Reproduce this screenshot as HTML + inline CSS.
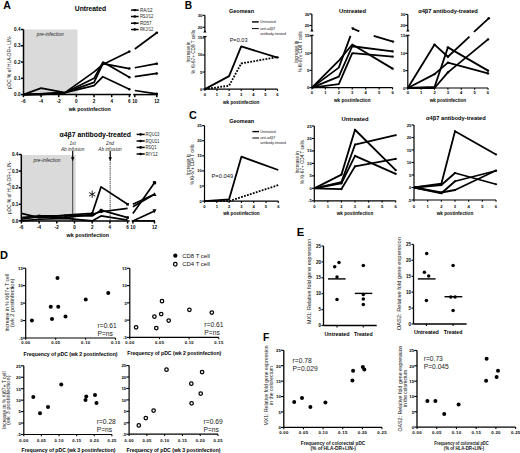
<!DOCTYPE html>
<html><head><meta charset="utf-8"><style>
html,body{margin:0;padding:0;background:#fff;}
body{width:520px;height:453px;overflow:hidden;font-family:"Liberation Sans", sans-serif;}
svg{display:block;}
</style></head><body>
<svg width="520" height="453" viewBox="0 0 520 453" font-family='"Liberation Sans", sans-serif'>
<rect width="520" height="453" fill="#fff"/>
<text x="3.30" y="8.90" font-size="10.6" font-weight="bold">A</text>
<text x="74.80" y="11.00" font-size="6.7" font-weight="bold" textLength="31.40" lengthAdjust="spacingAndGlyphs">Untreated</text>
<rect x="23.50" y="29.50" width="54.00" height="65.00" fill="#dadada"/>
<text x="50.20" y="36.00" font-size="4.9" text-anchor="middle" font-style="italic" fill="#222">pre-infection</text>
<line x1="23.50" y1="29.50" x2="23.50" y2="94.60" stroke="#000" stroke-width="1.5" stroke-linecap="butt"/>
<line x1="20.90" y1="94.60" x2="23.50" y2="94.60" stroke="#000" stroke-width="1.5" stroke-linecap="butt"/>
<text x="20.50" y="96.26" font-size="4.6" text-anchor="end" font-weight="bold">0.0</text>
<line x1="20.90" y1="78.33" x2="23.50" y2="78.33" stroke="#000" stroke-width="1.5" stroke-linecap="butt"/>
<text x="20.50" y="79.99" font-size="4.6" text-anchor="end" font-weight="bold">0.1</text>
<line x1="20.90" y1="62.06" x2="23.50" y2="62.06" stroke="#000" stroke-width="1.5" stroke-linecap="butt"/>
<text x="20.50" y="63.72" font-size="4.6" text-anchor="end" font-weight="bold">0.2</text>
<line x1="20.90" y1="45.79" x2="23.50" y2="45.79" stroke="#000" stroke-width="1.5" stroke-linecap="butt"/>
<text x="20.50" y="47.45" font-size="4.6" text-anchor="end" font-weight="bold">0.3</text>
<line x1="20.90" y1="29.52" x2="23.50" y2="29.52" stroke="#000" stroke-width="1.5" stroke-linecap="butt"/>
<text x="20.50" y="31.18" font-size="4.6" text-anchor="end" font-weight="bold">0.4</text>
<line x1="23.50" y1="94.60" x2="131.00" y2="94.60" stroke="#000" stroke-width="1.5" stroke-linecap="butt"/>
<line x1="133.20" y1="94.60" x2="157.50" y2="94.60" stroke="#000" stroke-width="1.5" stroke-linecap="butt"/>
<line x1="23.42" y1="94.60" x2="23.42" y2="97.20" stroke="#000" stroke-width="1.5" stroke-linecap="butt"/>
<text x="23.42" y="102.80" font-size="4.6" text-anchor="middle" font-weight="bold">-6</text>
<line x1="41.08" y1="94.60" x2="41.08" y2="97.20" stroke="#000" stroke-width="1.5" stroke-linecap="butt"/>
<text x="41.08" y="102.80" font-size="4.6" text-anchor="middle" font-weight="bold">-4</text>
<line x1="58.74" y1="94.60" x2="58.74" y2="97.20" stroke="#000" stroke-width="1.5" stroke-linecap="butt"/>
<text x="58.74" y="102.80" font-size="4.6" text-anchor="middle" font-weight="bold">-2</text>
<line x1="76.40" y1="94.60" x2="76.40" y2="97.20" stroke="#000" stroke-width="1.5" stroke-linecap="butt"/>
<text x="76.40" y="102.80" font-size="4.6" text-anchor="middle" font-weight="bold">0</text>
<line x1="94.06" y1="94.60" x2="94.06" y2="97.20" stroke="#000" stroke-width="1.5" stroke-linecap="butt"/>
<text x="94.06" y="102.80" font-size="4.6" text-anchor="middle" font-weight="bold">2</text>
<line x1="111.72" y1="94.60" x2="111.72" y2="97.20" stroke="#000" stroke-width="1.5" stroke-linecap="butt"/>
<text x="111.72" y="102.80" font-size="4.6" text-anchor="middle" font-weight="bold">4</text>
<line x1="129.38" y1="94.60" x2="129.38" y2="97.20" stroke="#000" stroke-width="1.5" stroke-linecap="butt"/>
<text x="129.38" y="102.80" font-size="4.6" text-anchor="middle" font-weight="bold">6</text>
<line x1="134.80" y1="94.60" x2="134.80" y2="97.20" stroke="#000" stroke-width="1.5" stroke-linecap="butt"/>
<text x="134.80" y="102.80" font-size="4.6" text-anchor="middle" font-weight="bold">10</text>
<line x1="156.80" y1="94.60" x2="156.80" y2="97.20" stroke="#000" stroke-width="1.5" stroke-linecap="butt"/>
<text x="156.80" y="102.80" font-size="4.6" text-anchor="middle" font-weight="bold">12</text>
<text x="89.70" y="110.60" font-size="5.3" text-anchor="middle" font-weight="bold" textLength="42.00" lengthAdjust="spacingAndGlyphs">wk postinfection</text>
<text x="10.80" y="62.30" font-size="4.8" text-anchor="middle" transform="rotate(-90 10.80 62.30)" textLength="53.20" lengthAdjust="spacingAndGlyphs">pDC % of HLA-DR+ LIN-</text>
<line x1="131.00" y1="10.10" x2="138.60" y2="10.10" stroke="#000" stroke-width="1.5" stroke-linecap="butt"/>
<circle cx="134.80" cy="10.10" r="1.2" fill="#000"/>
<text x="139.90" y="11.70" font-size="4.5" fill="#222" textLength="12.60" lengthAdjust="spacingAndGlyphs">RA/12</text>
<line x1="131.00" y1="16.50" x2="138.60" y2="16.50" stroke="#000" stroke-width="1.5" stroke-linecap="butt"/>
<circle cx="134.80" cy="16.50" r="1.2" fill="#000"/>
<text x="139.90" y="18.10" font-size="4.5" fill="#222" textLength="13.30" lengthAdjust="spacingAndGlyphs">RSJ/12</text>
<line x1="131.00" y1="23.20" x2="138.60" y2="23.20" stroke="#000" stroke-width="1.5" stroke-linecap="butt"/>
<circle cx="134.80" cy="23.20" r="1.2" fill="#000"/>
<text x="139.90" y="24.80" font-size="4.5" fill="#222" textLength="11.60" lengthAdjust="spacingAndGlyphs">RD57</text>
<line x1="131.00" y1="29.50" x2="138.60" y2="29.50" stroke="#000" stroke-width="1.5" stroke-linecap="butt"/>
<circle cx="134.80" cy="29.50" r="1.2" fill="#000"/>
<text x="139.90" y="31.10" font-size="4.5" fill="#222" textLength="13.30" lengthAdjust="spacingAndGlyphs">RKJ/12</text>
<polyline points="23.42,94.60 41.08,93.79 64.92,92.65 94.06,71.82 102.89,64.50 129.38,51.48" fill="none" stroke="#000" stroke-width="1.7" stroke-linejoin="round"/>
<polyline points="134.80,49.04 156.80,32.77" fill="none" stroke="#000" stroke-width="1.7" stroke-linejoin="round"/>
<circle cx="129.38" cy="51.48" r="1.2" fill="#000"/>
<circle cx="156.80" cy="32.77" r="1.3" fill="#000"/>
<polyline points="23.42,94.60 41.08,88.09 64.92,92.65 94.06,78.33 102.89,62.06 129.38,77.19" fill="none" stroke="#000" stroke-width="1.7" stroke-linejoin="round"/>
<polyline points="134.80,76.70 156.80,73.45" fill="none" stroke="#000" stroke-width="1.7" stroke-linejoin="round"/>
<circle cx="129.38" cy="77.19" r="1.2" fill="#000"/>
<circle cx="156.80" cy="73.45" r="1.3" fill="#000"/>
<polyline points="23.42,94.60 41.08,93.79 64.92,92.65 94.06,82.40 102.89,63.69 129.38,68.57" fill="none" stroke="#000" stroke-width="1.7" stroke-linejoin="round"/>
<polyline points="134.80,67.75 156.80,63.69" fill="none" stroke="#000" stroke-width="1.7" stroke-linejoin="round"/>
<circle cx="129.38" cy="68.57" r="1.2" fill="#000"/>
<circle cx="156.80" cy="63.69" r="1.3" fill="#000"/>
<polyline points="23.42,94.60 41.08,94.60 64.92,92.65 94.06,85.65 102.89,76.70 129.38,89.23" fill="none" stroke="#000" stroke-width="1.7" stroke-linejoin="round"/>
<polyline points="134.80,90.53 156.80,93.79" fill="none" stroke="#000" stroke-width="1.7" stroke-linejoin="round"/>
<circle cx="129.38" cy="89.23" r="1.2" fill="#000"/>
<circle cx="156.80" cy="93.79" r="1.3" fill="#000"/>
<circle cx="41.08" cy="93.95" r="1.2" fill="#000"/>
<text x="59.50" y="137.20" font-size="6.8" font-weight="bold" textLength="71.50" lengthAdjust="spacingAndGlyphs">α4β7 antibody-treated</text>
<rect x="21.30" y="155.00" width="54.40" height="65.90" fill="#dadada"/>
<text x="46.90" y="162.00" font-size="4.9" text-anchor="middle" font-style="italic" fill="#222">pre-infection</text>
<line x1="72.70" y1="160.00" x2="72.70" y2="220.90" stroke="#333" stroke-width="0.9" stroke-linecap="butt"/>
<line x1="110.20" y1="160.00" x2="110.20" y2="220.90" stroke="#777" stroke-width="1.3" stroke-linecap="butt" stroke-dasharray="1.3,0.6"/>
<text x="72.60" y="145.00" font-size="4.7" text-anchor="middle" font-style="italic" fill="#222">1st</text>
<text x="72.60" y="150.60" font-size="4.7" text-anchor="middle" font-style="italic" fill="#222" textLength="23.40" lengthAdjust="spacingAndGlyphs">Ab infusion</text>
<text x="110.00" y="145.00" font-size="4.7" text-anchor="middle" font-style="italic" fill="#222">2nd</text>
<text x="110.00" y="150.60" font-size="4.7" text-anchor="middle" font-style="italic" fill="#222" textLength="23.40" lengthAdjust="spacingAndGlyphs">Ab infusion</text>
<line x1="72.70" y1="151.00" x2="72.70" y2="158.50" stroke="#000" stroke-width="1.2" stroke-linecap="butt"/>
<path d="M71.00,157.3 L74.40,157.3 L72.70,161.3 Z" fill="#000"/>
<line x1="110.20" y1="151.00" x2="110.20" y2="158.50" stroke="#000" stroke-width="1.2" stroke-linecap="butt"/>
<path d="M108.50,157.3 L111.90,157.3 L110.20,161.3 Z" fill="#000"/>
<line x1="21.30" y1="154.40" x2="21.30" y2="220.90" stroke="#000" stroke-width="1.5" stroke-linecap="butt"/>
<line x1="18.70" y1="220.90" x2="21.30" y2="220.90" stroke="#000" stroke-width="1.5" stroke-linecap="butt"/>
<text x="18.30" y="222.56" font-size="4.6" text-anchor="end" font-weight="bold">0.0</text>
<line x1="18.70" y1="204.30" x2="21.30" y2="204.30" stroke="#000" stroke-width="1.5" stroke-linecap="butt"/>
<text x="18.30" y="205.96" font-size="4.6" text-anchor="end" font-weight="bold">0.1</text>
<line x1="18.70" y1="187.70" x2="21.30" y2="187.70" stroke="#000" stroke-width="1.5" stroke-linecap="butt"/>
<text x="18.30" y="189.36" font-size="4.6" text-anchor="end" font-weight="bold">0.2</text>
<line x1="18.70" y1="171.10" x2="21.30" y2="171.10" stroke="#000" stroke-width="1.5" stroke-linecap="butt"/>
<text x="18.30" y="172.76" font-size="4.6" text-anchor="end" font-weight="bold">0.3</text>
<line x1="18.70" y1="154.50" x2="21.30" y2="154.50" stroke="#000" stroke-width="1.5" stroke-linecap="butt"/>
<text x="18.30" y="156.16" font-size="4.6" text-anchor="end" font-weight="bold">0.4</text>
<line x1="21.30" y1="220.90" x2="129.60" y2="220.90" stroke="#000" stroke-width="1.5" stroke-linecap="butt"/>
<line x1="131.60" y1="220.90" x2="155.00" y2="220.90" stroke="#000" stroke-width="1.5" stroke-linecap="butt"/>
<line x1="21.40" y1="220.90" x2="21.40" y2="223.50" stroke="#000" stroke-width="1.5" stroke-linecap="butt"/>
<text x="21.40" y="229.00" font-size="4.6" text-anchor="middle" font-weight="bold">-6</text>
<line x1="39.10" y1="220.90" x2="39.10" y2="223.50" stroke="#000" stroke-width="1.5" stroke-linecap="butt"/>
<text x="39.10" y="229.00" font-size="4.6" text-anchor="middle" font-weight="bold">-4</text>
<line x1="56.80" y1="220.90" x2="56.80" y2="223.50" stroke="#000" stroke-width="1.5" stroke-linecap="butt"/>
<text x="56.80" y="229.00" font-size="4.6" text-anchor="middle" font-weight="bold">-2</text>
<line x1="74.50" y1="220.90" x2="74.50" y2="223.50" stroke="#000" stroke-width="1.5" stroke-linecap="butt"/>
<text x="74.50" y="229.00" font-size="4.6" text-anchor="middle" font-weight="bold">0</text>
<line x1="92.20" y1="220.90" x2="92.20" y2="223.50" stroke="#000" stroke-width="1.5" stroke-linecap="butt"/>
<text x="92.20" y="229.00" font-size="4.6" text-anchor="middle" font-weight="bold">2</text>
<line x1="109.90" y1="220.90" x2="109.90" y2="223.50" stroke="#000" stroke-width="1.5" stroke-linecap="butt"/>
<text x="109.90" y="229.00" font-size="4.6" text-anchor="middle" font-weight="bold">4</text>
<line x1="127.60" y1="220.90" x2="127.60" y2="223.50" stroke="#000" stroke-width="1.5" stroke-linecap="butt"/>
<text x="127.60" y="229.00" font-size="4.6" text-anchor="middle" font-weight="bold">6</text>
<line x1="132.90" y1="220.90" x2="132.90" y2="223.50" stroke="#000" stroke-width="1.5" stroke-linecap="butt"/>
<text x="132.90" y="229.00" font-size="4.6" text-anchor="middle" font-weight="bold">10</text>
<line x1="154.50" y1="220.90" x2="154.50" y2="223.50" stroke="#000" stroke-width="1.5" stroke-linecap="butt"/>
<text x="154.50" y="229.00" font-size="4.6" text-anchor="middle" font-weight="bold">12</text>
<text x="87.80" y="236.90" font-size="5.3" text-anchor="middle" font-weight="bold" textLength="42.40" lengthAdjust="spacingAndGlyphs">wk postinfection</text>
<text x="10.60" y="187.50" font-size="4.8" text-anchor="middle" transform="rotate(-90 10.60 187.50)" textLength="53.20" lengthAdjust="spacingAndGlyphs">pDC % of HLA-DR+ LIN-</text>
<line x1="92.20" y1="190.70" x2="92.20" y2="197.90" stroke="#000" stroke-width="0.85" stroke-linecap="butt"/>
<line x1="95.32" y1="192.50" x2="89.08" y2="196.10" stroke="#000" stroke-width="0.85" stroke-linecap="butt"/>
<line x1="95.32" y1="196.10" x2="89.08" y2="192.50" stroke="#000" stroke-width="0.85" stroke-linecap="butt"/>
<line x1="136.60" y1="134.40" x2="144.70" y2="134.40" stroke="#000" stroke-width="1.5" stroke-linecap="butt"/>
<circle cx="140.60" cy="134.40" r="1.3" fill="#000"/>
<text x="145.40" y="136.00" font-size="4.6" fill="#222" textLength="13.90" lengthAdjust="spacingAndGlyphs">RQU13</text>
<line x1="136.60" y1="141.00" x2="144.70" y2="141.00" stroke="#000" stroke-width="1.5" stroke-linecap="butt"/>
<circle cx="140.60" cy="141.00" r="1.3" fill="#000"/>
<text x="145.40" y="142.60" font-size="4.6" fill="#222" textLength="13.90" lengthAdjust="spacingAndGlyphs">RQU11</text>
<line x1="136.60" y1="147.40" x2="144.70" y2="147.40" stroke="#000" stroke-width="1.5" stroke-linecap="butt"/>
<circle cx="140.60" cy="147.40" r="1.3" fill="#000"/>
<text x="145.40" y="149.00" font-size="4.6" fill="#222" textLength="11.20" lengthAdjust="spacingAndGlyphs">RSQ1</text>
<line x1="136.60" y1="154.00" x2="144.70" y2="154.00" stroke="#000" stroke-width="1.5" stroke-linecap="butt"/>
<circle cx="140.60" cy="154.00" r="1.3" fill="#000"/>
<text x="145.40" y="155.60" font-size="4.6" fill="#222" textLength="12.20" lengthAdjust="spacingAndGlyphs">RIY12</text>
<polyline points="21.40,213.43 39.10,217.58 65.65,215.09 92.20,213.43 101.05,186.87 127.60,204.30" fill="none" stroke="#000" stroke-width="1.7" stroke-linejoin="round"/>
<polyline points="21.40,217.58 39.10,215.92 65.65,215.92 92.20,215.92 101.05,210.11 127.60,217.58" fill="none" stroke="#000" stroke-width="1.7" stroke-linejoin="round"/>
<polyline points="21.40,219.24 39.10,216.75 65.65,217.58 92.20,214.26 101.05,211.77 127.60,208.45" fill="none" stroke="#000" stroke-width="1.7" stroke-linejoin="round"/>
<polyline points="21.40,220.90 39.10,219.24 65.65,218.41 92.20,220.90 101.05,215.92 127.60,220.07" fill="none" stroke="#000" stroke-width="1.7" stroke-linejoin="round"/>
<rect x="37.80" y="214.62" width="2.6" height="2.6" fill="#000"/>
<rect x="64.35" y="214.62" width="2.6" height="2.6" fill="#000"/>
<rect x="99.75" y="208.81" width="2.6" height="2.6" fill="#000"/>
<rect x="99.75" y="210.47" width="2.6" height="2.6" fill="#000"/>
<rect x="126.30" y="216.28" width="2.6" height="2.6" fill="#000"/>
<rect x="90.90" y="212.13" width="2.6" height="2.6" fill="#000"/>
<rect x="126.30" y="203.00" width="2.6" height="2.6" fill="#000"/>
<polyline points="132.90,213.43 154.50,182.72" fill="none" stroke="#000" stroke-width="1.7" stroke-linejoin="round"/>
<polyline points="132.90,204.30 154.50,194.34" fill="none" stroke="#000" stroke-width="1.7" stroke-linejoin="round"/>
<polyline points="132.90,206.79 154.50,194.34" fill="none" stroke="#000" stroke-width="1.7" stroke-linejoin="round"/>
<polyline points="132.90,220.90 154.50,210.94" fill="none" stroke="#000" stroke-width="1.7" stroke-linejoin="round"/>
<polyline points="132.90,220.90 154.50,220.90" fill="none" stroke="#000" stroke-width="1.5" stroke-linejoin="round"/>
<rect x="152.90" y="181.12" width="3.2" height="3.2" fill="#000"/>
<path d="M152.50,195.94 L156.50,195.94 L154.50,192.14 Z"/>
<path d="M152.50,209.34 L156.50,209.34 L154.50,213.14 Z"/>
<text x="184.70" y="9.00" font-size="10.2" font-weight="bold">B</text>
<line x1="204.90" y1="15.30" x2="204.90" y2="32.00" stroke="#000" stroke-width="1.2" stroke-linecap="butt"/>
<line x1="204.90" y1="36.50" x2="204.90" y2="89.10" stroke="#000" stroke-width="1.2" stroke-linecap="butt"/>
<path d="M203.20,32.60 L206.60,32.60 L204.90,30.20 Z" fill="#000"/>
<line x1="203.20" y1="36.50" x2="206.60" y2="36.50" stroke="#000" stroke-width="1.1" stroke-linecap="butt"/>
<line x1="202.50" y1="15.30" x2="204.90" y2="15.30" stroke="#000" stroke-width="1.1" stroke-linecap="butt"/>
<text x="202.30" y="16.80" font-size="4.15" text-anchor="end" font-weight="bold">30</text>
<line x1="202.50" y1="27.20" x2="204.90" y2="27.20" stroke="#000" stroke-width="1.1" stroke-linecap="butt"/>
<text x="202.30" y="28.70" font-size="4.15" text-anchor="end" font-weight="bold">20</text>
<line x1="202.50" y1="37.90" x2="204.90" y2="37.90" stroke="#000" stroke-width="1.1" stroke-linecap="butt"/>
<text x="202.30" y="39.40" font-size="4.15" text-anchor="end" font-weight="bold">15</text>
<line x1="202.50" y1="54.97" x2="204.90" y2="54.97" stroke="#000" stroke-width="1.1" stroke-linecap="butt"/>
<text x="202.30" y="56.47" font-size="4.15" text-anchor="end" font-weight="bold">10</text>
<line x1="202.50" y1="72.03" x2="204.90" y2="72.03" stroke="#000" stroke-width="1.1" stroke-linecap="butt"/>
<text x="202.30" y="73.53" font-size="4.15" text-anchor="end" font-weight="bold">5</text>
<line x1="202.50" y1="89.10" x2="204.90" y2="89.10" stroke="#000" stroke-width="1.1" stroke-linecap="butt"/>
<text x="202.30" y="90.60" font-size="4.15" text-anchor="end" font-weight="bold">0</text>
<line x1="204.90" y1="89.10" x2="277.50" y2="89.10" stroke="#000" stroke-width="1.2" stroke-linecap="butt"/>
<line x1="204.90" y1="89.10" x2="204.90" y2="90.90" stroke="#000" stroke-width="1.1" stroke-linecap="butt"/>
<text x="204.90" y="95.60" font-size="4.15" text-anchor="middle" font-weight="bold">0</text>
<line x1="217.00" y1="89.10" x2="217.00" y2="90.90" stroke="#000" stroke-width="1.1" stroke-linecap="butt"/>
<text x="217.00" y="95.60" font-size="4.15" text-anchor="middle" font-weight="bold">1</text>
<line x1="229.10" y1="89.10" x2="229.10" y2="90.90" stroke="#000" stroke-width="1.1" stroke-linecap="butt"/>
<text x="229.10" y="95.60" font-size="4.15" text-anchor="middle" font-weight="bold">2</text>
<line x1="241.20" y1="89.10" x2="241.20" y2="90.90" stroke="#000" stroke-width="1.1" stroke-linecap="butt"/>
<text x="241.20" y="95.60" font-size="4.15" text-anchor="middle" font-weight="bold">3</text>
<line x1="253.30" y1="89.10" x2="253.30" y2="90.90" stroke="#000" stroke-width="1.1" stroke-linecap="butt"/>
<text x="253.30" y="95.60" font-size="4.15" text-anchor="middle" font-weight="bold">4</text>
<line x1="265.40" y1="89.10" x2="265.40" y2="90.90" stroke="#000" stroke-width="1.1" stroke-linecap="butt"/>
<text x="265.40" y="95.60" font-size="4.15" text-anchor="middle" font-weight="bold">5</text>
<line x1="277.50" y1="89.10" x2="277.50" y2="90.90" stroke="#000" stroke-width="1.1" stroke-linecap="butt"/>
<text x="277.50" y="95.60" font-size="4.15" text-anchor="middle" font-weight="bold">6</text>
<text x="241.20" y="104.00" font-size="4.65" text-anchor="middle" font-weight="bold" textLength="36.50" lengthAdjust="spacingAndGlyphs">wk postinfection</text>
<text x="241.50" y="13.00" font-size="5.7" text-anchor="middle" font-weight="bold" textLength="25.00" lengthAdjust="spacingAndGlyphs">Geomean</text>
<text x="190.10" y="52.00" font-size="4.5" text-anchor="middle" fill="#111" transform="rotate(-90 190.10 52.00)" textLength="21.00" lengthAdjust="spacingAndGlyphs">Increase in</text>
<text x="195.20" y="52.00" font-size="4.5" text-anchor="middle" fill="#111" transform="rotate(-90 195.20 52.00)" textLength="44.00" lengthAdjust="spacingAndGlyphs">% Ki-67+ CD8 T cells</text>
<polyline points="204.90,89.10 229.10,76.13 241.20,46.43 277.50,57.70" fill="none" stroke="#000" stroke-width="1.8" stroke-linejoin="round"/>
<polyline points="204.90,89.10 229.10,85.69 241.20,63.50 277.50,57.01" fill="none" stroke="#000" stroke-width="1.8" stroke-linejoin="round" stroke-dasharray="1.8,1.3"/>
<circle cx="277.50" cy="57.36" r="1.2" fill="#000"/>
<text x="238.60" y="42.10" font-size="5.6" text-anchor="middle" fill="#111" textLength="17.90" lengthAdjust="spacingAndGlyphs">P=0.03</text>
<line x1="252.00" y1="21.90" x2="258.80" y2="21.90" stroke="#000" stroke-width="1.4" stroke-linecap="butt"/>
<text x="260.30" y="23.30" font-size="3.5" fill="#222" textLength="15.40" lengthAdjust="spacingAndGlyphs">Untreated</text>
<line x1="252.00" y1="28.60" x2="258.80" y2="28.60" stroke="#000" stroke-width="1.0" stroke-linecap="butt"/>
<text x="260.30" y="30.00" font-size="3.5" fill="#222" textLength="15.00" lengthAdjust="spacingAndGlyphs">anti-α4β7</text>
<text x="260.30" y="35.10" font-size="3.5" fill="#222" textLength="25.70" lengthAdjust="spacingAndGlyphs">antibody-treated</text>
<line x1="311.90" y1="14.00" x2="311.90" y2="30.90" stroke="#000" stroke-width="1.2" stroke-linecap="butt"/>
<line x1="311.90" y1="35.30" x2="311.90" y2="87.60" stroke="#000" stroke-width="1.2" stroke-linecap="butt"/>
<path d="M310.20,31.50 L313.60,31.50 L311.90,29.10 Z" fill="#000"/>
<line x1="310.20" y1="35.30" x2="313.60" y2="35.30" stroke="#000" stroke-width="1.1" stroke-linecap="butt"/>
<line x1="309.50" y1="14.00" x2="311.90" y2="14.00" stroke="#000" stroke-width="1.1" stroke-linecap="butt"/>
<text x="309.30" y="15.50" font-size="4.15" text-anchor="end" font-weight="bold">30</text>
<line x1="309.50" y1="25.50" x2="311.90" y2="25.50" stroke="#000" stroke-width="1.1" stroke-linecap="butt"/>
<text x="309.30" y="27.00" font-size="4.15" text-anchor="end" font-weight="bold">20</text>
<line x1="309.50" y1="35.90" x2="311.90" y2="35.90" stroke="#000" stroke-width="1.1" stroke-linecap="butt"/>
<text x="309.30" y="37.40" font-size="4.15" text-anchor="end" font-weight="bold">15</text>
<line x1="309.50" y1="53.13" x2="311.90" y2="53.13" stroke="#000" stroke-width="1.1" stroke-linecap="butt"/>
<text x="309.30" y="54.63" font-size="4.15" text-anchor="end" font-weight="bold">10</text>
<line x1="309.50" y1="70.37" x2="311.90" y2="70.37" stroke="#000" stroke-width="1.1" stroke-linecap="butt"/>
<text x="309.30" y="71.87" font-size="4.15" text-anchor="end" font-weight="bold">5</text>
<line x1="309.50" y1="87.60" x2="311.90" y2="87.60" stroke="#000" stroke-width="1.1" stroke-linecap="butt"/>
<text x="309.30" y="89.10" font-size="4.15" text-anchor="end" font-weight="bold">0</text>
<line x1="311.90" y1="87.60" x2="392.60" y2="87.60" stroke="#000" stroke-width="1.2" stroke-linecap="butt"/>
<line x1="311.90" y1="87.60" x2="311.90" y2="89.40" stroke="#000" stroke-width="1.1" stroke-linecap="butt"/>
<text x="311.90" y="94.00" font-size="4.15" text-anchor="middle" font-weight="bold">0</text>
<line x1="325.35" y1="87.60" x2="325.35" y2="89.40" stroke="#000" stroke-width="1.1" stroke-linecap="butt"/>
<text x="325.35" y="94.00" font-size="4.15" text-anchor="middle" font-weight="bold">1</text>
<line x1="338.80" y1="87.60" x2="338.80" y2="89.40" stroke="#000" stroke-width="1.1" stroke-linecap="butt"/>
<text x="338.80" y="94.00" font-size="4.15" text-anchor="middle" font-weight="bold">2</text>
<line x1="352.25" y1="87.60" x2="352.25" y2="89.40" stroke="#000" stroke-width="1.1" stroke-linecap="butt"/>
<text x="352.25" y="94.00" font-size="4.15" text-anchor="middle" font-weight="bold">3</text>
<line x1="365.70" y1="87.60" x2="365.70" y2="89.40" stroke="#000" stroke-width="1.1" stroke-linecap="butt"/>
<text x="365.70" y="94.00" font-size="4.15" text-anchor="middle" font-weight="bold">4</text>
<line x1="379.15" y1="87.60" x2="379.15" y2="89.40" stroke="#000" stroke-width="1.1" stroke-linecap="butt"/>
<text x="379.15" y="94.00" font-size="4.15" text-anchor="middle" font-weight="bold">5</text>
<line x1="392.60" y1="87.60" x2="392.60" y2="89.40" stroke="#000" stroke-width="1.1" stroke-linecap="butt"/>
<text x="392.60" y="94.00" font-size="4.15" text-anchor="middle" font-weight="bold">6</text>
<text x="352.25" y="102.00" font-size="4.65" text-anchor="middle" font-weight="bold" textLength="36.50" lengthAdjust="spacingAndGlyphs">wk postinfection</text>
<text x="352.60" y="12.50" font-size="5.7" text-anchor="middle" font-weight="bold" textLength="27.00" lengthAdjust="spacingAndGlyphs">Untreated</text>
<text x="298.10" y="51.80" font-size="4.5" text-anchor="middle" fill="#111" transform="rotate(-90 298.10 51.80)" textLength="22.00" lengthAdjust="spacingAndGlyphs">Increase in</text>
<text x="302.30" y="51.80" font-size="4.5" text-anchor="middle" fill="#111" transform="rotate(-90 302.30 51.80)" textLength="41.00" lengthAdjust="spacingAndGlyphs">% Ki-67+ CD8 T cells</text>
<polyline points="311.90,87.60 338.80,84.15 352.25,53.13 392.60,56.58" fill="none" stroke="#000" stroke-width="1.8" stroke-linejoin="round"/>
<circle cx="392.60" cy="56.58" r="1.2" fill="#000"/>
<polyline points="311.90,87.60 338.80,60.72 352.25,44.52 392.60,68.64" fill="none" stroke="#000" stroke-width="1.8" stroke-linejoin="round"/>
<circle cx="392.60" cy="68.64" r="1.2" fill="#000"/>
<polyline points="311.90,87.60 338.80,76.57 352.25,46.24 392.60,51.41" fill="none" stroke="#000" stroke-width="1.8" stroke-linejoin="round"/>
<circle cx="392.60" cy="51.41" r="1.2" fill="#000"/>
<polyline points="311.90,87.60 338.80,67.61 350.50,35.90" fill="none" stroke="#000" stroke-width="1.8" stroke-linejoin="round"/>
<polyline points="352.60,28.50 359.30,31.40" fill="none" stroke="#000" stroke-width="1.8" stroke-linejoin="round"/>
<path d="M351.2,27.2 L354.2,27.6 L352.4,30.2 Z"/>
<polyline points="373.70,35.90 393.00,41.60" fill="none" stroke="#000" stroke-width="1.8" stroke-linejoin="round"/>
<circle cx="393.00" cy="41.60" r="1.2" fill="#000"/>
<line x1="407.80" y1="14.40" x2="407.80" y2="30.80" stroke="#000" stroke-width="1.2" stroke-linecap="butt"/>
<line x1="407.80" y1="35.30" x2="407.80" y2="88.00" stroke="#000" stroke-width="1.2" stroke-linecap="butt"/>
<path d="M406.10,31.40 L409.50,31.40 L407.80,29.00 Z" fill="#000"/>
<line x1="406.10" y1="35.30" x2="409.50" y2="35.30" stroke="#000" stroke-width="1.1" stroke-linecap="butt"/>
<line x1="405.40" y1="14.40" x2="407.80" y2="14.40" stroke="#000" stroke-width="1.1" stroke-linecap="butt"/>
<text x="405.20" y="15.90" font-size="4.15" text-anchor="end" font-weight="bold">30</text>
<line x1="405.40" y1="25.40" x2="407.80" y2="25.40" stroke="#000" stroke-width="1.1" stroke-linecap="butt"/>
<text x="405.20" y="26.90" font-size="4.15" text-anchor="end" font-weight="bold">20</text>
<line x1="405.40" y1="35.90" x2="407.80" y2="35.90" stroke="#000" stroke-width="1.1" stroke-linecap="butt"/>
<text x="405.20" y="37.40" font-size="4.15" text-anchor="end" font-weight="bold">15</text>
<line x1="405.40" y1="53.27" x2="407.80" y2="53.27" stroke="#000" stroke-width="1.1" stroke-linecap="butt"/>
<text x="405.20" y="54.77" font-size="4.15" text-anchor="end" font-weight="bold">10</text>
<line x1="405.40" y1="70.63" x2="407.80" y2="70.63" stroke="#000" stroke-width="1.1" stroke-linecap="butt"/>
<text x="405.20" y="72.13" font-size="4.15" text-anchor="end" font-weight="bold">5</text>
<line x1="405.40" y1="88.00" x2="407.80" y2="88.00" stroke="#000" stroke-width="1.1" stroke-linecap="butt"/>
<text x="405.20" y="89.50" font-size="4.15" text-anchor="end" font-weight="bold">0</text>
<line x1="407.80" y1="88.00" x2="488.02" y2="88.00" stroke="#000" stroke-width="1.2" stroke-linecap="butt"/>
<line x1="407.80" y1="88.00" x2="407.80" y2="89.80" stroke="#000" stroke-width="1.1" stroke-linecap="butt"/>
<text x="407.80" y="94.20" font-size="4.15" text-anchor="middle" font-weight="bold">0</text>
<line x1="421.17" y1="88.00" x2="421.17" y2="89.80" stroke="#000" stroke-width="1.1" stroke-linecap="butt"/>
<text x="421.17" y="94.20" font-size="4.15" text-anchor="middle" font-weight="bold">1</text>
<line x1="434.54" y1="88.00" x2="434.54" y2="89.80" stroke="#000" stroke-width="1.1" stroke-linecap="butt"/>
<text x="434.54" y="94.20" font-size="4.15" text-anchor="middle" font-weight="bold">2</text>
<line x1="447.91" y1="88.00" x2="447.91" y2="89.80" stroke="#000" stroke-width="1.1" stroke-linecap="butt"/>
<text x="447.91" y="94.20" font-size="4.15" text-anchor="middle" font-weight="bold">3</text>
<line x1="461.28" y1="88.00" x2="461.28" y2="89.80" stroke="#000" stroke-width="1.1" stroke-linecap="butt"/>
<text x="461.28" y="94.20" font-size="4.15" text-anchor="middle" font-weight="bold">4</text>
<line x1="474.65" y1="88.00" x2="474.65" y2="89.80" stroke="#000" stroke-width="1.1" stroke-linecap="butt"/>
<text x="474.65" y="94.20" font-size="4.15" text-anchor="middle" font-weight="bold">5</text>
<line x1="488.02" y1="88.00" x2="488.02" y2="89.80" stroke="#000" stroke-width="1.1" stroke-linecap="butt"/>
<text x="488.02" y="94.20" font-size="4.15" text-anchor="middle" font-weight="bold">6</text>
<text x="447.91" y="102.00" font-size="4.65" text-anchor="middle" font-weight="bold" textLength="36.50" lengthAdjust="spacingAndGlyphs">wk postinfection</text>
<text x="448.00" y="12.60" font-size="5.7" text-anchor="middle" font-weight="bold" textLength="59.70" lengthAdjust="spacingAndGlyphs">α4β7 antibody-treated</text>
<polyline points="407.80,88.00 434.54,44.58 447.91,56.74" fill="none" stroke="#000" stroke-width="1.8" stroke-linejoin="round"/>
<polyline points="407.80,88.00 434.54,74.11 447.91,62.64 488.02,73.41" fill="none" stroke="#000" stroke-width="1.8" stroke-linejoin="round"/>
<polyline points="407.80,88.00 434.54,86.96 447.91,47.36 488.02,70.63" fill="none" stroke="#000" stroke-width="1.8" stroke-linejoin="round"/>
<polyline points="407.80,88.00 434.54,88.00 447.91,72.37 488.02,39.37" fill="none" stroke="#000" stroke-width="1.8" stroke-linejoin="round"/>
<circle cx="488.02" cy="70.63" r="1.2" fill="#000"/>
<circle cx="488.02" cy="73.41" r="1.2" fill="#000"/>
<circle cx="488.02" cy="39.37" r="1.2" fill="#000"/>
<circle cx="434.54" cy="44.58" r="1.2" fill="#000"/>
<circle cx="434.54" cy="74.11" r="1.2" fill="#000"/>
<circle cx="447.91" cy="62.64" r="1.2" fill="#000"/>
<circle cx="447.91" cy="56.74" r="1.2" fill="#000"/>
<circle cx="447.91" cy="72.37" r="1.2" fill="#000"/>
<circle cx="447.91" cy="47.36" r="1.2" fill="#000"/>
<polyline points="447.91,56.74 469.50,36.60" fill="none" stroke="#000" stroke-width="1.8" stroke-linejoin="round"/>
<polyline points="474.00,31.80 488.70,18.30" fill="none" stroke="#000" stroke-width="1.8" stroke-linejoin="round"/>
<circle cx="488.70" cy="18.30" r="1.3" fill="#000"/>
<text x="188.90" y="119.30" font-size="10.8" font-weight="bold">C</text>
<line x1="204.50" y1="125.60" x2="204.50" y2="201.10" stroke="#000" stroke-width="1.2" stroke-linecap="butt"/>
<line x1="202.10" y1="201.10" x2="204.50" y2="201.10" stroke="#000" stroke-width="1.1" stroke-linecap="butt"/>
<text x="201.90" y="202.60" font-size="4.15" text-anchor="end" font-weight="bold">0</text>
<line x1="202.10" y1="186.00" x2="204.50" y2="186.00" stroke="#000" stroke-width="1.1" stroke-linecap="butt"/>
<text x="201.90" y="187.50" font-size="4.15" text-anchor="end" font-weight="bold">5</text>
<line x1="202.10" y1="170.90" x2="204.50" y2="170.90" stroke="#000" stroke-width="1.1" stroke-linecap="butt"/>
<text x="201.90" y="172.40" font-size="4.15" text-anchor="end" font-weight="bold">10</text>
<line x1="202.10" y1="155.80" x2="204.50" y2="155.80" stroke="#000" stroke-width="1.1" stroke-linecap="butt"/>
<text x="201.90" y="157.30" font-size="4.15" text-anchor="end" font-weight="bold">15</text>
<line x1="202.10" y1="140.70" x2="204.50" y2="140.70" stroke="#000" stroke-width="1.1" stroke-linecap="butt"/>
<text x="201.90" y="142.20" font-size="4.15" text-anchor="end" font-weight="bold">20</text>
<line x1="202.10" y1="125.60" x2="204.50" y2="125.60" stroke="#000" stroke-width="1.1" stroke-linecap="butt"/>
<text x="201.90" y="127.10" font-size="4.15" text-anchor="end" font-weight="bold">25</text>
<line x1="204.50" y1="201.10" x2="278.30" y2="201.10" stroke="#000" stroke-width="1.2" stroke-linecap="butt"/>
<line x1="204.50" y1="201.10" x2="204.50" y2="202.90" stroke="#000" stroke-width="1.1" stroke-linecap="butt"/>
<text x="204.50" y="207.60" font-size="4.15" text-anchor="middle" font-weight="bold">0</text>
<line x1="216.80" y1="201.10" x2="216.80" y2="202.90" stroke="#000" stroke-width="1.1" stroke-linecap="butt"/>
<text x="216.80" y="207.60" font-size="4.15" text-anchor="middle" font-weight="bold">1</text>
<line x1="229.10" y1="201.10" x2="229.10" y2="202.90" stroke="#000" stroke-width="1.1" stroke-linecap="butt"/>
<text x="229.10" y="207.60" font-size="4.15" text-anchor="middle" font-weight="bold">2</text>
<line x1="241.40" y1="201.10" x2="241.40" y2="202.90" stroke="#000" stroke-width="1.1" stroke-linecap="butt"/>
<text x="241.40" y="207.60" font-size="4.15" text-anchor="middle" font-weight="bold">3</text>
<line x1="253.70" y1="201.10" x2="253.70" y2="202.90" stroke="#000" stroke-width="1.1" stroke-linecap="butt"/>
<text x="253.70" y="207.60" font-size="4.15" text-anchor="middle" font-weight="bold">4</text>
<line x1="266.00" y1="201.10" x2="266.00" y2="202.90" stroke="#000" stroke-width="1.1" stroke-linecap="butt"/>
<text x="266.00" y="207.60" font-size="4.15" text-anchor="middle" font-weight="bold">5</text>
<line x1="278.30" y1="201.10" x2="278.30" y2="202.90" stroke="#000" stroke-width="1.1" stroke-linecap="butt"/>
<text x="278.30" y="207.60" font-size="4.15" text-anchor="middle" font-weight="bold">6</text>
<text x="241.40" y="215.40" font-size="4.65" text-anchor="middle" font-weight="bold" textLength="36.50" lengthAdjust="spacingAndGlyphs">wk postinfection</text>
<text x="241.70" y="122.80" font-size="5.7" text-anchor="middle" font-weight="bold" textLength="25.00" lengthAdjust="spacingAndGlyphs">Geomean</text>
<text x="190.00" y="164.50" font-size="4.5" text-anchor="middle" fill="#111" transform="rotate(-90 190.00 164.50)" textLength="21.00" lengthAdjust="spacingAndGlyphs">Increase in</text>
<text x="194.40" y="164.50" font-size="4.5" text-anchor="middle" fill="#111" transform="rotate(-90 194.40 164.50)" textLength="40.50" lengthAdjust="spacingAndGlyphs">% Ki-67+ CD4 T cells</text>
<polyline points="204.50,201.10 229.10,199.29 241.40,156.71 278.30,169.99" fill="none" stroke="#000" stroke-width="1.8" stroke-linejoin="round"/>
<polyline points="204.50,201.10 229.10,201.10 278.30,185.09" fill="none" stroke="#000" stroke-width="1.8" stroke-linejoin="round" stroke-dasharray="1.8,1.3"/>
<text x="222.30" y="177.90" font-size="5.6" text-anchor="middle" fill="#111" textLength="21.60" lengthAdjust="spacingAndGlyphs">P=0.049</text>
<line x1="252.40" y1="131.60" x2="259.00" y2="131.60" stroke="#000" stroke-width="1.4" stroke-linecap="butt"/>
<text x="260.30" y="133.00" font-size="3.5" fill="#222" textLength="15.40" lengthAdjust="spacingAndGlyphs">Untreated</text>
<line x1="252.40" y1="138.00" x2="259.00" y2="138.00" stroke="#000" stroke-width="1.0" stroke-linecap="butt"/>
<text x="260.30" y="139.40" font-size="3.5" fill="#222" textLength="15.00" lengthAdjust="spacingAndGlyphs">anti-α4β7</text>
<text x="260.30" y="144.30" font-size="3.5" fill="#222" textLength="25.70" lengthAdjust="spacingAndGlyphs">antibody-treated</text>
<line x1="314.30" y1="126.00" x2="314.30" y2="200.80" stroke="#000" stroke-width="1.2" stroke-linecap="butt"/>
<line x1="311.90" y1="200.80" x2="314.30" y2="200.80" stroke="#000" stroke-width="1.1" stroke-linecap="butt"/>
<text x="311.70" y="202.30" font-size="4.15" text-anchor="end" font-weight="bold">-5</text>
<line x1="311.90" y1="188.33" x2="314.30" y2="188.33" stroke="#000" stroke-width="1.1" stroke-linecap="butt"/>
<text x="311.70" y="189.83" font-size="4.15" text-anchor="end" font-weight="bold">0</text>
<line x1="311.90" y1="175.87" x2="314.30" y2="175.87" stroke="#000" stroke-width="1.1" stroke-linecap="butt"/>
<text x="311.70" y="177.37" font-size="4.15" text-anchor="end" font-weight="bold">5</text>
<line x1="311.90" y1="163.40" x2="314.30" y2="163.40" stroke="#000" stroke-width="1.1" stroke-linecap="butt"/>
<text x="311.70" y="164.90" font-size="4.15" text-anchor="end" font-weight="bold">10</text>
<line x1="311.90" y1="150.93" x2="314.30" y2="150.93" stroke="#000" stroke-width="1.1" stroke-linecap="butt"/>
<text x="311.70" y="152.43" font-size="4.15" text-anchor="end" font-weight="bold">15</text>
<line x1="311.90" y1="138.47" x2="314.30" y2="138.47" stroke="#000" stroke-width="1.1" stroke-linecap="butt"/>
<text x="311.70" y="139.97" font-size="4.15" text-anchor="end" font-weight="bold">20</text>
<line x1="311.90" y1="126.00" x2="314.30" y2="126.00" stroke="#000" stroke-width="1.1" stroke-linecap="butt"/>
<text x="311.70" y="127.50" font-size="4.15" text-anchor="end" font-weight="bold">25</text>
<line x1="314.30" y1="200.80" x2="395.72" y2="200.80" stroke="#000" stroke-width="1.2" stroke-linecap="butt"/>
<line x1="314.30" y1="200.80" x2="314.30" y2="202.60" stroke="#000" stroke-width="1.1" stroke-linecap="butt"/>
<text x="314.30" y="207.60" font-size="4.15" text-anchor="middle" font-weight="bold">0</text>
<line x1="327.87" y1="200.80" x2="327.87" y2="202.60" stroke="#000" stroke-width="1.1" stroke-linecap="butt"/>
<text x="327.87" y="207.60" font-size="4.15" text-anchor="middle" font-weight="bold">1</text>
<line x1="341.44" y1="200.80" x2="341.44" y2="202.60" stroke="#000" stroke-width="1.1" stroke-linecap="butt"/>
<text x="341.44" y="207.60" font-size="4.15" text-anchor="middle" font-weight="bold">2</text>
<line x1="355.01" y1="200.80" x2="355.01" y2="202.60" stroke="#000" stroke-width="1.1" stroke-linecap="butt"/>
<text x="355.01" y="207.60" font-size="4.15" text-anchor="middle" font-weight="bold">3</text>
<line x1="368.58" y1="200.80" x2="368.58" y2="202.60" stroke="#000" stroke-width="1.1" stroke-linecap="butt"/>
<text x="368.58" y="207.60" font-size="4.15" text-anchor="middle" font-weight="bold">4</text>
<line x1="382.15" y1="200.80" x2="382.15" y2="202.60" stroke="#000" stroke-width="1.1" stroke-linecap="butt"/>
<text x="382.15" y="207.60" font-size="4.15" text-anchor="middle" font-weight="bold">5</text>
<line x1="395.72" y1="200.80" x2="395.72" y2="202.60" stroke="#000" stroke-width="1.1" stroke-linecap="butt"/>
<text x="395.72" y="207.60" font-size="4.15" text-anchor="middle" font-weight="bold">6</text>
<text x="355.01" y="215.40" font-size="4.65" text-anchor="middle" font-weight="bold" textLength="36.50" lengthAdjust="spacingAndGlyphs">wk postinfection</text>
<text x="355.00" y="121.00" font-size="5.7" text-anchor="middle" font-weight="bold" textLength="27.00" lengthAdjust="spacingAndGlyphs">Untreated</text>
<text x="299.30" y="162.20" font-size="4.5" text-anchor="middle" fill="#111" transform="rotate(-90 299.30 162.20)" textLength="22.00" lengthAdjust="spacingAndGlyphs">Increase in</text>
<text x="304.30" y="162.20" font-size="4.5" text-anchor="middle" fill="#111" transform="rotate(-90 304.30 162.20)" textLength="44.00" lengthAdjust="spacingAndGlyphs">% Ki-67+ CD4 T cells</text>
<polyline points="314.30,188.33 341.44,174.62 355.01,129.74 395.72,170.13" fill="none" stroke="#000" stroke-width="1.8" stroke-linejoin="round"/>
<circle cx="341.44" cy="174.62" r="1.1" fill="#000"/>
<circle cx="355.01" cy="129.74" r="1.1" fill="#000"/>
<circle cx="395.72" cy="170.13" r="1.1" fill="#000"/>
<polyline points="314.30,188.33 341.44,182.10 355.01,144.70 395.72,135.23" fill="none" stroke="#000" stroke-width="1.8" stroke-linejoin="round"/>
<circle cx="341.44" cy="182.10" r="1.1" fill="#000"/>
<circle cx="355.01" cy="144.70" r="1.1" fill="#000"/>
<circle cx="395.72" cy="135.23" r="1.1" fill="#000"/>
<polyline points="314.30,188.33 341.44,183.35 355.01,155.92 395.72,173.87" fill="none" stroke="#000" stroke-width="1.8" stroke-linejoin="round"/>
<circle cx="341.44" cy="183.35" r="1.1" fill="#000"/>
<circle cx="355.01" cy="155.92" r="1.1" fill="#000"/>
<circle cx="395.72" cy="173.87" r="1.1" fill="#000"/>
<polyline points="314.30,188.33 341.44,189.08 355.01,166.39 395.72,158.91" fill="none" stroke="#000" stroke-width="1.8" stroke-linejoin="round"/>
<circle cx="341.44" cy="189.08" r="1.1" fill="#000"/>
<circle cx="355.01" cy="166.39" r="1.1" fill="#000"/>
<circle cx="395.72" cy="158.91" r="1.1" fill="#000"/>
<line x1="414.00" y1="125.00" x2="414.00" y2="200.00" stroke="#000" stroke-width="1.2" stroke-linecap="butt"/>
<line x1="411.60" y1="200.00" x2="414.00" y2="200.00" stroke="#000" stroke-width="1.1" stroke-linecap="butt"/>
<text x="411.40" y="201.50" font-size="4.15" text-anchor="end" font-weight="bold">-5</text>
<line x1="411.60" y1="187.50" x2="414.00" y2="187.50" stroke="#000" stroke-width="1.1" stroke-linecap="butt"/>
<text x="411.40" y="189.00" font-size="4.15" text-anchor="end" font-weight="bold">0</text>
<line x1="411.60" y1="175.00" x2="414.00" y2="175.00" stroke="#000" stroke-width="1.1" stroke-linecap="butt"/>
<text x="411.40" y="176.50" font-size="4.15" text-anchor="end" font-weight="bold">5</text>
<line x1="411.60" y1="162.50" x2="414.00" y2="162.50" stroke="#000" stroke-width="1.1" stroke-linecap="butt"/>
<text x="411.40" y="164.00" font-size="4.15" text-anchor="end" font-weight="bold">10</text>
<line x1="411.60" y1="150.00" x2="414.00" y2="150.00" stroke="#000" stroke-width="1.1" stroke-linecap="butt"/>
<text x="411.40" y="151.50" font-size="4.15" text-anchor="end" font-weight="bold">15</text>
<line x1="411.60" y1="137.50" x2="414.00" y2="137.50" stroke="#000" stroke-width="1.1" stroke-linecap="butt"/>
<text x="411.40" y="139.00" font-size="4.15" text-anchor="end" font-weight="bold">20</text>
<line x1="411.60" y1="125.00" x2="414.00" y2="125.00" stroke="#000" stroke-width="1.1" stroke-linecap="butt"/>
<text x="411.40" y="126.50" font-size="4.15" text-anchor="end" font-weight="bold">25</text>
<line x1="414.00" y1="200.00" x2="496.02" y2="200.00" stroke="#000" stroke-width="1.2" stroke-linecap="butt"/>
<line x1="414.00" y1="200.00" x2="414.00" y2="201.80" stroke="#000" stroke-width="1.1" stroke-linecap="butt"/>
<text x="414.00" y="207.60" font-size="4.15" text-anchor="middle" font-weight="bold">0</text>
<line x1="427.67" y1="200.00" x2="427.67" y2="201.80" stroke="#000" stroke-width="1.1" stroke-linecap="butt"/>
<text x="427.67" y="207.60" font-size="4.15" text-anchor="middle" font-weight="bold">1</text>
<line x1="441.34" y1="200.00" x2="441.34" y2="201.80" stroke="#000" stroke-width="1.1" stroke-linecap="butt"/>
<text x="441.34" y="207.60" font-size="4.15" text-anchor="middle" font-weight="bold">2</text>
<line x1="455.01" y1="200.00" x2="455.01" y2="201.80" stroke="#000" stroke-width="1.1" stroke-linecap="butt"/>
<text x="455.01" y="207.60" font-size="4.15" text-anchor="middle" font-weight="bold">3</text>
<line x1="468.68" y1="200.00" x2="468.68" y2="201.80" stroke="#000" stroke-width="1.1" stroke-linecap="butt"/>
<text x="468.68" y="207.60" font-size="4.15" text-anchor="middle" font-weight="bold">4</text>
<line x1="482.35" y1="200.00" x2="482.35" y2="201.80" stroke="#000" stroke-width="1.1" stroke-linecap="butt"/>
<text x="482.35" y="207.60" font-size="4.15" text-anchor="middle" font-weight="bold">5</text>
<line x1="496.02" y1="200.00" x2="496.02" y2="201.80" stroke="#000" stroke-width="1.1" stroke-linecap="butt"/>
<text x="496.02" y="207.60" font-size="4.15" text-anchor="middle" font-weight="bold">6</text>
<text x="455.01" y="215.40" font-size="4.65" text-anchor="middle" font-weight="bold" textLength="36.50" lengthAdjust="spacingAndGlyphs">wk postinfection</text>
<text x="455.90" y="120.20" font-size="5.7" text-anchor="middle" font-weight="bold" textLength="59.70" lengthAdjust="spacingAndGlyphs">α4β7 antibody-treated</text>
<polyline points="414.00,187.50 441.34,183.75 455.01,131.25 496.02,154.50" fill="none" stroke="#000" stroke-width="1.8" stroke-linejoin="round"/>
<circle cx="441.34" cy="183.75" r="1.1" fill="#000"/>
<circle cx="455.01" cy="131.25" r="1.1" fill="#000"/>
<circle cx="496.02" cy="154.50" r="1.1" fill="#000"/>
<polyline points="414.00,187.50 441.34,185.00 455.01,173.00 496.02,184.25" fill="none" stroke="#000" stroke-width="1.8" stroke-linejoin="round"/>
<circle cx="441.34" cy="185.00" r="1.1" fill="#000"/>
<circle cx="455.01" cy="173.00" r="1.1" fill="#000"/>
<circle cx="496.02" cy="184.25" r="1.1" fill="#000"/>
<polyline points="414.00,187.50 441.34,193.25 455.01,181.25 496.02,170.75" fill="none" stroke="#000" stroke-width="1.8" stroke-linejoin="round"/>
<circle cx="441.34" cy="193.25" r="1.1" fill="#000"/>
<circle cx="455.01" cy="181.25" r="1.1" fill="#000"/>
<circle cx="496.02" cy="170.75" r="1.1" fill="#000"/>
<polyline points="414.00,187.50 441.34,192.50 455.01,190.00 496.02,170.50" fill="none" stroke="#000" stroke-width="1.8" stroke-linejoin="round"/>
<circle cx="441.34" cy="192.50" r="1.1" fill="#000"/>
<circle cx="455.01" cy="190.00" r="1.1" fill="#000"/>
<circle cx="496.02" cy="170.50" r="1.1" fill="#000"/>
<text x="0.00" y="258.80" font-size="11.0" font-weight="bold">D</text>
<line x1="25.70" y1="268.20" x2="25.70" y2="338.00" stroke="#000" stroke-width="1.2" stroke-linecap="butt"/>
<line x1="22.90" y1="338.00" x2="25.70" y2="338.00" stroke="#000" stroke-width="1.1" stroke-linecap="butt"/>
<text x="22.80" y="339.80" font-size="4.3" text-anchor="end" font-weight="bold">-5</text>
<line x1="22.90" y1="320.55" x2="25.70" y2="320.55" stroke="#000" stroke-width="1.1" stroke-linecap="butt"/>
<text x="22.80" y="322.35" font-size="4.3" text-anchor="end" font-weight="bold">0</text>
<line x1="22.90" y1="303.10" x2="25.70" y2="303.10" stroke="#000" stroke-width="1.1" stroke-linecap="butt"/>
<text x="22.80" y="304.90" font-size="4.3" text-anchor="end" font-weight="bold">5</text>
<line x1="22.90" y1="285.65" x2="25.70" y2="285.65" stroke="#000" stroke-width="1.1" stroke-linecap="butt"/>
<text x="22.80" y="287.45" font-size="4.3" text-anchor="end" font-weight="bold">10</text>
<line x1="22.90" y1="268.20" x2="25.70" y2="268.20" stroke="#000" stroke-width="1.1" stroke-linecap="butt"/>
<text x="22.80" y="270.00" font-size="4.3" text-anchor="end" font-weight="bold">15</text>
<line x1="25.70" y1="338.00" x2="115.50" y2="338.00" stroke="#000" stroke-width="1.2" stroke-linecap="butt"/>
<line x1="25.70" y1="338.00" x2="25.70" y2="339.80" stroke="#000" stroke-width="1.1" stroke-linecap="butt"/>
<text x="25.85" y="343.60" font-size="4.15" text-anchor="middle" font-weight="bold" letter-spacing="0.3">0.00</text>
<line x1="55.63" y1="338.00" x2="55.63" y2="339.80" stroke="#000" stroke-width="1.1" stroke-linecap="butt"/>
<text x="55.78" y="343.60" font-size="4.15" text-anchor="middle" font-weight="bold" letter-spacing="0.3">0.05</text>
<line x1="85.57" y1="338.00" x2="85.57" y2="339.80" stroke="#000" stroke-width="1.1" stroke-linecap="butt"/>
<text x="85.72" y="343.60" font-size="4.15" text-anchor="middle" font-weight="bold" letter-spacing="0.3">0.10</text>
<line x1="115.50" y1="338.00" x2="115.50" y2="339.80" stroke="#000" stroke-width="1.1" stroke-linecap="butt"/>
<text x="115.65" y="343.60" font-size="4.15" text-anchor="middle" font-weight="bold" letter-spacing="0.3">0.15</text>
<text x="70.60" y="355.70" font-size="5.17" text-anchor="middle" font-weight="bold" textLength="94.00" lengthAdjust="spacingAndGlyphs">Frequency of pDC (wk 2 postinfection)</text>
<text x="9.20" y="302.80" font-size="5.0" text-anchor="middle" fill="#111" transform="rotate(-90 9.20 302.80)" textLength="57.50" lengthAdjust="spacingAndGlyphs">Increase in % Ki67+ T cell</text>
<text x="13.60" y="302.80" font-size="5.0" text-anchor="middle" fill="#111" transform="rotate(-90 13.60 302.80)" textLength="48.50" lengthAdjust="spacingAndGlyphs">(wk 2 postinfection)</text>
<circle cx="31.90" cy="320.60" r="2.0" fill="#000"/>
<circle cx="50.75" cy="306.75" r="2.0" fill="#000"/>
<circle cx="52.00" cy="319.00" r="2.0" fill="#000"/>
<circle cx="57.50" cy="278.00" r="2.0" fill="#000"/>
<circle cx="58.25" cy="306.75" r="2.0" fill="#000"/>
<circle cx="65.50" cy="316.50" r="2.0" fill="#000"/>
<circle cx="85.75" cy="299.50" r="2.0" fill="#000"/>
<circle cx="108.25" cy="293.00" r="2.0" fill="#000"/>
<text x="97.50" y="328.30" font-size="6.7" fill="#222">r=0.61</text>
<text x="97.50" y="336.20" font-size="6.7" fill="#222">P=ns</text>
<line x1="129.80" y1="268.30" x2="129.80" y2="337.40" stroke="#000" stroke-width="1.2" stroke-linecap="butt"/>
<line x1="127.00" y1="337.40" x2="129.80" y2="337.40" stroke="#000" stroke-width="1.1" stroke-linecap="butt"/>
<text x="126.90" y="339.20" font-size="4.3" text-anchor="end" font-weight="bold">-5</text>
<line x1="127.00" y1="320.12" x2="129.80" y2="320.12" stroke="#000" stroke-width="1.1" stroke-linecap="butt"/>
<text x="126.90" y="321.93" font-size="4.3" text-anchor="end" font-weight="bold">0</text>
<line x1="127.00" y1="302.85" x2="129.80" y2="302.85" stroke="#000" stroke-width="1.1" stroke-linecap="butt"/>
<text x="126.90" y="304.65" font-size="4.3" text-anchor="end" font-weight="bold">5</text>
<line x1="127.00" y1="285.57" x2="129.80" y2="285.57" stroke="#000" stroke-width="1.1" stroke-linecap="butt"/>
<text x="126.90" y="287.38" font-size="4.3" text-anchor="end" font-weight="bold">10</text>
<line x1="127.00" y1="268.30" x2="129.80" y2="268.30" stroke="#000" stroke-width="1.1" stroke-linecap="butt"/>
<text x="126.90" y="270.10" font-size="4.3" text-anchor="end" font-weight="bold">15</text>
<line x1="129.80" y1="337.40" x2="218.80" y2="337.40" stroke="#000" stroke-width="1.2" stroke-linecap="butt"/>
<line x1="129.80" y1="337.40" x2="129.80" y2="339.20" stroke="#000" stroke-width="1.1" stroke-linecap="butt"/>
<text x="129.95" y="343.60" font-size="4.15" text-anchor="middle" font-weight="bold" letter-spacing="0.3">0.00</text>
<line x1="159.47" y1="337.40" x2="159.47" y2="339.20" stroke="#000" stroke-width="1.1" stroke-linecap="butt"/>
<text x="159.62" y="343.60" font-size="4.15" text-anchor="middle" font-weight="bold" letter-spacing="0.3">0.05</text>
<line x1="189.13" y1="337.40" x2="189.13" y2="339.20" stroke="#000" stroke-width="1.1" stroke-linecap="butt"/>
<text x="189.28" y="343.60" font-size="4.15" text-anchor="middle" font-weight="bold" letter-spacing="0.3">0.10</text>
<line x1="218.80" y1="337.40" x2="218.80" y2="339.20" stroke="#000" stroke-width="1.1" stroke-linecap="butt"/>
<text x="218.95" y="343.60" font-size="4.15" text-anchor="middle" font-weight="bold" letter-spacing="0.3">0.15</text>
<text x="174.30" y="355.00" font-size="5.17" text-anchor="middle" font-weight="bold" textLength="94.00" lengthAdjust="spacingAndGlyphs">Frequency of pDC (wk 2 postinfection)</text>
<circle cx="136.10" cy="327.30" r="1.75" fill="#fff" stroke="#000" stroke-width="1.25"/>
<circle cx="154.40" cy="316.50" r="1.75" fill="#fff" stroke="#000" stroke-width="1.25"/>
<circle cx="156.30" cy="328.10" r="1.75" fill="#fff" stroke="#000" stroke-width="1.25"/>
<circle cx="161.20" cy="314.10" r="1.75" fill="#fff" stroke="#000" stroke-width="1.25"/>
<circle cx="162.00" cy="301.20" r="1.75" fill="#fff" stroke="#000" stroke-width="1.25"/>
<circle cx="168.70" cy="320.50" r="1.75" fill="#fff" stroke="#000" stroke-width="1.25"/>
<circle cx="189.40" cy="309.80" r="1.75" fill="#fff" stroke="#000" stroke-width="1.25"/>
<circle cx="211.80" cy="312.50" r="1.75" fill="#fff" stroke="#000" stroke-width="1.25"/>
<text x="204.30" y="326.70" font-size="6.7" fill="#222">r=0.61</text>
<text x="204.30" y="334.90" font-size="6.7" fill="#222">P=ns</text>
<circle cx="175.30" cy="255.70" r="2.1" fill="#000"/>
<text x="182.20" y="257.90" font-size="6.0" fill="#111" textLength="27.60" lengthAdjust="spacingAndGlyphs">CD8 T cell</text>
<circle cx="175.30" cy="264.20" r="1.8" fill="#fff" stroke="#000" stroke-width="1.25"/>
<text x="182.20" y="266.30" font-size="6.0" fill="#111" textLength="27.60" lengthAdjust="spacingAndGlyphs">CD4 T cell</text>
<line x1="23.80" y1="365.80" x2="23.80" y2="434.50" stroke="#000" stroke-width="1.2" stroke-linecap="butt"/>
<line x1="21.00" y1="434.50" x2="23.80" y2="434.50" stroke="#000" stroke-width="1.1" stroke-linecap="butt"/>
<text x="20.90" y="436.30" font-size="4.3" text-anchor="end" font-weight="bold">-5</text>
<line x1="21.00" y1="423.05" x2="23.80" y2="423.05" stroke="#000" stroke-width="1.1" stroke-linecap="butt"/>
<text x="20.90" y="424.85" font-size="4.3" text-anchor="end" font-weight="bold">0</text>
<line x1="21.00" y1="411.60" x2="23.80" y2="411.60" stroke="#000" stroke-width="1.1" stroke-linecap="butt"/>
<text x="20.90" y="413.40" font-size="4.3" text-anchor="end" font-weight="bold">5</text>
<line x1="21.00" y1="400.15" x2="23.80" y2="400.15" stroke="#000" stroke-width="1.1" stroke-linecap="butt"/>
<text x="20.90" y="401.95" font-size="4.3" text-anchor="end" font-weight="bold">10</text>
<line x1="21.00" y1="388.70" x2="23.80" y2="388.70" stroke="#000" stroke-width="1.1" stroke-linecap="butt"/>
<text x="20.90" y="390.50" font-size="4.3" text-anchor="end" font-weight="bold">15</text>
<line x1="21.00" y1="377.25" x2="23.80" y2="377.25" stroke="#000" stroke-width="1.1" stroke-linecap="butt"/>
<text x="20.90" y="379.05" font-size="4.3" text-anchor="end" font-weight="bold">20</text>
<line x1="21.00" y1="365.80" x2="23.80" y2="365.80" stroke="#000" stroke-width="1.1" stroke-linecap="butt"/>
<text x="20.90" y="367.60" font-size="4.3" text-anchor="end" font-weight="bold">25</text>
<line x1="23.80" y1="434.50" x2="111.90" y2="434.50" stroke="#000" stroke-width="1.2" stroke-linecap="butt"/>
<line x1="23.80" y1="434.50" x2="23.80" y2="436.30" stroke="#000" stroke-width="1.1" stroke-linecap="butt"/>
<text x="23.95" y="441.80" font-size="4.15" text-anchor="middle" font-weight="bold" letter-spacing="0.3">0.00</text>
<line x1="41.42" y1="434.50" x2="41.42" y2="436.30" stroke="#000" stroke-width="1.1" stroke-linecap="butt"/>
<text x="41.57" y="441.80" font-size="4.15" text-anchor="middle" font-weight="bold" letter-spacing="0.3">0.05</text>
<line x1="59.04" y1="434.50" x2="59.04" y2="436.30" stroke="#000" stroke-width="1.1" stroke-linecap="butt"/>
<text x="59.19" y="441.80" font-size="4.15" text-anchor="middle" font-weight="bold" letter-spacing="0.3">0.10</text>
<line x1="76.66" y1="434.50" x2="76.66" y2="436.30" stroke="#000" stroke-width="1.1" stroke-linecap="butt"/>
<text x="76.81" y="441.80" font-size="4.15" text-anchor="middle" font-weight="bold" letter-spacing="0.3">0.15</text>
<line x1="94.28" y1="434.50" x2="94.28" y2="436.30" stroke="#000" stroke-width="1.1" stroke-linecap="butt"/>
<text x="94.43" y="441.80" font-size="4.15" text-anchor="middle" font-weight="bold" letter-spacing="0.3">0.20</text>
<line x1="111.90" y1="434.50" x2="111.90" y2="436.30" stroke="#000" stroke-width="1.1" stroke-linecap="butt"/>
<text x="112.05" y="441.80" font-size="4.15" text-anchor="middle" font-weight="bold" letter-spacing="0.3">0.25</text>
<text x="68.60" y="451.60" font-size="5.17" text-anchor="middle" font-weight="bold" textLength="94.00" lengthAdjust="spacingAndGlyphs">Frequency of pDC (wk 3 postinfection)</text>
<text x="5.60" y="400.20" font-size="5.0" text-anchor="middle" fill="#111" transform="rotate(-90 5.60 400.20)" textLength="57.50" lengthAdjust="spacingAndGlyphs">Increase in % Ki67+ T cell</text>
<text x="10.00" y="400.20" font-size="5.0" text-anchor="middle" fill="#111" transform="rotate(-90 10.00 400.20)" textLength="49.50" lengthAdjust="spacingAndGlyphs">(wk 3 postinfection)</text>
<circle cx="33.30" cy="397.10" r="2.0" fill="#000"/>
<circle cx="40.00" cy="413.25" r="2.0" fill="#000"/>
<circle cx="48.00" cy="407.00" r="2.0" fill="#000"/>
<circle cx="61.25" cy="384.50" r="2.0" fill="#000"/>
<circle cx="85.50" cy="400.00" r="2.0" fill="#000"/>
<circle cx="86.25" cy="396.50" r="2.0" fill="#000"/>
<circle cx="95.00" cy="395.00" r="2.0" fill="#000"/>
<circle cx="96.50" cy="403.00" r="2.0" fill="#000"/>
<text x="96.70" y="424.20" font-size="6.7" fill="#222">r=0.28</text>
<text x="96.70" y="431.70" font-size="6.7" fill="#222">P=ns</text>
<line x1="129.10" y1="365.60" x2="129.10" y2="434.20" stroke="#000" stroke-width="1.2" stroke-linecap="butt"/>
<line x1="126.30" y1="434.20" x2="129.10" y2="434.20" stroke="#000" stroke-width="1.1" stroke-linecap="butt"/>
<text x="126.20" y="436.00" font-size="4.3" text-anchor="end" font-weight="bold">-5</text>
<line x1="126.30" y1="422.77" x2="129.10" y2="422.77" stroke="#000" stroke-width="1.1" stroke-linecap="butt"/>
<text x="126.20" y="424.57" font-size="4.3" text-anchor="end" font-weight="bold">0</text>
<line x1="126.30" y1="411.33" x2="129.10" y2="411.33" stroke="#000" stroke-width="1.1" stroke-linecap="butt"/>
<text x="126.20" y="413.13" font-size="4.3" text-anchor="end" font-weight="bold">5</text>
<line x1="126.30" y1="399.90" x2="129.10" y2="399.90" stroke="#000" stroke-width="1.1" stroke-linecap="butt"/>
<text x="126.20" y="401.70" font-size="4.3" text-anchor="end" font-weight="bold">10</text>
<line x1="126.30" y1="388.47" x2="129.10" y2="388.47" stroke="#000" stroke-width="1.1" stroke-linecap="butt"/>
<text x="126.20" y="390.27" font-size="4.3" text-anchor="end" font-weight="bold">15</text>
<line x1="126.30" y1="377.03" x2="129.10" y2="377.03" stroke="#000" stroke-width="1.1" stroke-linecap="butt"/>
<text x="126.20" y="378.83" font-size="4.3" text-anchor="end" font-weight="bold">20</text>
<line x1="126.30" y1="365.60" x2="129.10" y2="365.60" stroke="#000" stroke-width="1.1" stroke-linecap="butt"/>
<text x="126.20" y="367.40" font-size="4.3" text-anchor="end" font-weight="bold">25</text>
<line x1="129.10" y1="434.20" x2="218.00" y2="434.20" stroke="#000" stroke-width="1.2" stroke-linecap="butt"/>
<line x1="129.10" y1="434.20" x2="129.10" y2="436.00" stroke="#000" stroke-width="1.1" stroke-linecap="butt"/>
<text x="129.25" y="441.80" font-size="4.15" text-anchor="middle" font-weight="bold" letter-spacing="0.3">0.00</text>
<line x1="146.88" y1="434.20" x2="146.88" y2="436.00" stroke="#000" stroke-width="1.1" stroke-linecap="butt"/>
<text x="147.03" y="441.80" font-size="4.15" text-anchor="middle" font-weight="bold" letter-spacing="0.3">0.05</text>
<line x1="164.66" y1="434.20" x2="164.66" y2="436.00" stroke="#000" stroke-width="1.1" stroke-linecap="butt"/>
<text x="164.81" y="441.80" font-size="4.15" text-anchor="middle" font-weight="bold" letter-spacing="0.3">0.10</text>
<line x1="182.44" y1="434.20" x2="182.44" y2="436.00" stroke="#000" stroke-width="1.1" stroke-linecap="butt"/>
<text x="182.59" y="441.80" font-size="4.15" text-anchor="middle" font-weight="bold" letter-spacing="0.3">0.15</text>
<line x1="200.22" y1="434.20" x2="200.22" y2="436.00" stroke="#000" stroke-width="1.1" stroke-linecap="butt"/>
<text x="200.37" y="441.80" font-size="4.15" text-anchor="middle" font-weight="bold" letter-spacing="0.3">0.20</text>
<line x1="218.00" y1="434.20" x2="218.00" y2="436.00" stroke="#000" stroke-width="1.1" stroke-linecap="butt"/>
<text x="218.15" y="441.80" font-size="4.15" text-anchor="middle" font-weight="bold" letter-spacing="0.3">0.25</text>
<text x="173.55" y="452.00" font-size="5.17" text-anchor="middle" font-weight="bold" textLength="94.00" lengthAdjust="spacingAndGlyphs">Frequency of pDC (wk 3 postinfection)</text>
<circle cx="138.80" cy="425.40" r="1.75" fill="#fff" stroke="#000" stroke-width="1.25"/>
<circle cx="145.80" cy="418.10" r="1.75" fill="#fff" stroke="#000" stroke-width="1.25"/>
<circle cx="153.60" cy="410.60" r="1.75" fill="#fff" stroke="#000" stroke-width="1.25"/>
<circle cx="166.50" cy="369.70" r="1.75" fill="#fff" stroke="#000" stroke-width="1.25"/>
<circle cx="191.30" cy="383.70" r="1.75" fill="#fff" stroke="#000" stroke-width="1.25"/>
<circle cx="191.60" cy="403.30" r="1.75" fill="#fff" stroke="#000" stroke-width="1.25"/>
<circle cx="200.70" cy="393.60" r="1.75" fill="#fff" stroke="#000" stroke-width="1.25"/>
<circle cx="202.10" cy="372.10" r="1.75" fill="#fff" stroke="#000" stroke-width="1.25"/>
<text x="203.50" y="424.40" font-size="6.7" fill="#222">r=0.69</text>
<text x="203.50" y="432.40" font-size="6.7" fill="#222">P=ns</text>
<text x="296.70" y="235.90" font-size="11.2" font-weight="bold">E</text>
<line x1="323.50" y1="246.00" x2="323.50" y2="325.50" stroke="#000" stroke-width="1.3" stroke-linecap="butt"/>
<line x1="321.50" y1="325.50" x2="323.50" y2="325.50" stroke="#000" stroke-width="1.1" stroke-linecap="butt"/>
<text x="320.90" y="327.10" font-size="4.5" text-anchor="end" font-weight="bold">0</text>
<line x1="321.50" y1="309.60" x2="323.50" y2="309.60" stroke="#000" stroke-width="1.1" stroke-linecap="butt"/>
<text x="320.90" y="311.20" font-size="4.5" text-anchor="end" font-weight="bold">5</text>
<line x1="321.50" y1="293.70" x2="323.50" y2="293.70" stroke="#000" stroke-width="1.1" stroke-linecap="butt"/>
<text x="320.90" y="295.30" font-size="4.5" text-anchor="end" font-weight="bold">10</text>
<line x1="321.50" y1="277.80" x2="323.50" y2="277.80" stroke="#000" stroke-width="1.1" stroke-linecap="butt"/>
<text x="320.90" y="279.40" font-size="4.5" text-anchor="end" font-weight="bold">15</text>
<line x1="321.50" y1="261.90" x2="323.50" y2="261.90" stroke="#000" stroke-width="1.1" stroke-linecap="butt"/>
<text x="320.90" y="263.50" font-size="4.5" text-anchor="end" font-weight="bold">20</text>
<line x1="321.50" y1="246.00" x2="323.50" y2="246.00" stroke="#000" stroke-width="1.1" stroke-linecap="butt"/>
<text x="320.90" y="247.60" font-size="4.5" text-anchor="end" font-weight="bold">25</text>
<line x1="323.50" y1="325.50" x2="376.70" y2="325.50" stroke="#000" stroke-width="1.3" stroke-linecap="butt"/>
<line x1="337.00" y1="325.50" x2="337.00" y2="327.50" stroke="#000" stroke-width="1.1" stroke-linecap="butt"/>
<line x1="363.30" y1="325.50" x2="363.30" y2="327.50" stroke="#000" stroke-width="1.1" stroke-linecap="butt"/>
<text x="337.00" y="335.50" font-size="5.5" text-anchor="middle" font-weight="bold" textLength="25.00" lengthAdjust="spacingAndGlyphs">Untreated</text>
<text x="363.30" y="335.50" font-size="5.5" text-anchor="middle" font-weight="bold" textLength="18.60" lengthAdjust="spacingAndGlyphs">Treated</text>
<text x="310.80" y="281.60" font-size="5.6" text-anchor="middle" fill="#111" transform="rotate(-90 310.80 281.60)" textLength="85.00" lengthAdjust="spacingAndGlyphs">MX1: Relative fold gene expression</text>
<circle cx="334.70" cy="266.70" r="1.75" fill="#000"/>
<circle cx="339.00" cy="262.60" r="1.75" fill="#000"/>
<circle cx="337.00" cy="277.00" r="1.75" fill="#000"/>
<circle cx="337.00" cy="299.50" r="1.75" fill="#000"/>
<circle cx="363.30" cy="265.50" r="1.75" fill="#000"/>
<circle cx="363.30" cy="294.60" r="1.75" fill="#000"/>
<circle cx="363.30" cy="299.00" r="1.75" fill="#000"/>
<circle cx="363.30" cy="304.40" r="1.75" fill="#000"/>
<line x1="328.00" y1="278.90" x2="345.60" y2="278.90" stroke="#000" stroke-width="1.4" stroke-linecap="butt"/>
<line x1="354.80" y1="293.40" x2="372.30" y2="293.40" stroke="#000" stroke-width="1.4" stroke-linecap="butt"/>
<line x1="413.50" y1="244.40" x2="413.50" y2="324.00" stroke="#000" stroke-width="1.3" stroke-linecap="butt"/>
<line x1="411.50" y1="324.00" x2="413.50" y2="324.00" stroke="#000" stroke-width="1.1" stroke-linecap="butt"/>
<text x="410.90" y="325.60" font-size="4.5" text-anchor="end" font-weight="bold">0</text>
<line x1="411.50" y1="308.08" x2="413.50" y2="308.08" stroke="#000" stroke-width="1.1" stroke-linecap="butt"/>
<text x="410.90" y="309.68" font-size="4.5" text-anchor="end" font-weight="bold">5</text>
<line x1="411.50" y1="292.16" x2="413.50" y2="292.16" stroke="#000" stroke-width="1.1" stroke-linecap="butt"/>
<text x="410.90" y="293.76" font-size="4.5" text-anchor="end" font-weight="bold">10</text>
<line x1="411.50" y1="276.24" x2="413.50" y2="276.24" stroke="#000" stroke-width="1.1" stroke-linecap="butt"/>
<text x="410.90" y="277.84" font-size="4.5" text-anchor="end" font-weight="bold">15</text>
<line x1="411.50" y1="260.32" x2="413.50" y2="260.32" stroke="#000" stroke-width="1.1" stroke-linecap="butt"/>
<text x="410.90" y="261.92" font-size="4.5" text-anchor="end" font-weight="bold">20</text>
<line x1="411.50" y1="244.40" x2="413.50" y2="244.40" stroke="#000" stroke-width="1.1" stroke-linecap="butt"/>
<text x="410.90" y="246.00" font-size="4.5" text-anchor="end" font-weight="bold">25</text>
<line x1="413.50" y1="324.00" x2="466.60" y2="324.00" stroke="#000" stroke-width="1.3" stroke-linecap="butt"/>
<line x1="426.40" y1="324.00" x2="426.40" y2="326.00" stroke="#000" stroke-width="1.1" stroke-linecap="butt"/>
<line x1="453.10" y1="324.00" x2="453.10" y2="326.00" stroke="#000" stroke-width="1.1" stroke-linecap="butt"/>
<text x="426.40" y="333.60" font-size="5.5" text-anchor="middle" font-weight="bold" textLength="25.00" lengthAdjust="spacingAndGlyphs">Untreated</text>
<text x="453.10" y="333.60" font-size="5.5" text-anchor="middle" font-weight="bold" textLength="18.60" lengthAdjust="spacingAndGlyphs">Treated</text>
<text x="401.30" y="283.70" font-size="5.6" text-anchor="middle" fill="#111" transform="rotate(-90 401.30 283.70)" textLength="93.00" lengthAdjust="spacingAndGlyphs">OAS2: Relative fold gene expression</text>
<circle cx="426.70" cy="253.60" r="1.75" fill="#000"/>
<circle cx="424.40" cy="272.30" r="1.75" fill="#000"/>
<circle cx="428.70" cy="276.00" r="1.75" fill="#000"/>
<circle cx="426.40" cy="300.40" r="1.75" fill="#000"/>
<circle cx="453.10" cy="265.40" r="1.75" fill="#000"/>
<circle cx="450.80" cy="297.00" r="1.75" fill="#000"/>
<circle cx="455.10" cy="297.00" r="1.75" fill="#000"/>
<circle cx="453.10" cy="310.40" r="1.75" fill="#000"/>
<line x1="417.80" y1="278.90" x2="435.60" y2="278.90" stroke="#000" stroke-width="1.4" stroke-linecap="butt"/>
<line x1="444.50" y1="296.70" x2="462.30" y2="296.70" stroke="#000" stroke-width="1.4" stroke-linecap="butt"/>
<text x="263.00" y="341.20" font-size="10.3" font-weight="bold">F</text>
<line x1="283.80" y1="350.30" x2="283.80" y2="427.40" stroke="#000" stroke-width="1.3" stroke-linecap="butt"/>
<line x1="281.00" y1="427.40" x2="283.80" y2="427.40" stroke="#000" stroke-width="1.1" stroke-linecap="butt"/>
<text x="280.90" y="429.20" font-size="4.3" text-anchor="end" font-weight="bold">0</text>
<line x1="281.00" y1="411.98" x2="283.80" y2="411.98" stroke="#000" stroke-width="1.1" stroke-linecap="butt"/>
<text x="280.90" y="413.78" font-size="4.3" text-anchor="end" font-weight="bold">5</text>
<line x1="281.00" y1="396.56" x2="283.80" y2="396.56" stroke="#000" stroke-width="1.1" stroke-linecap="butt"/>
<text x="280.90" y="398.36" font-size="4.3" text-anchor="end" font-weight="bold">10</text>
<line x1="281.00" y1="381.14" x2="283.80" y2="381.14" stroke="#000" stroke-width="1.1" stroke-linecap="butt"/>
<text x="280.90" y="382.94" font-size="4.3" text-anchor="end" font-weight="bold">15</text>
<line x1="281.00" y1="365.72" x2="283.80" y2="365.72" stroke="#000" stroke-width="1.1" stroke-linecap="butt"/>
<text x="280.90" y="367.52" font-size="4.3" text-anchor="end" font-weight="bold">20</text>
<line x1="281.00" y1="350.30" x2="283.80" y2="350.30" stroke="#000" stroke-width="1.1" stroke-linecap="butt"/>
<text x="280.90" y="352.10" font-size="4.3" text-anchor="end" font-weight="bold">25</text>
<line x1="283.80" y1="427.40" x2="382.00" y2="427.40" stroke="#000" stroke-width="1.3" stroke-linecap="butt"/>
<line x1="283.80" y1="427.40" x2="283.80" y2="429.20" stroke="#000" stroke-width="1.1" stroke-linecap="butt"/>
<text x="283.95" y="434.20" font-size="4.3" text-anchor="middle" font-weight="bold" letter-spacing="0.3">0.00</text>
<line x1="303.44" y1="427.40" x2="303.44" y2="429.20" stroke="#000" stroke-width="1.1" stroke-linecap="butt"/>
<text x="303.59" y="434.20" font-size="4.3" text-anchor="middle" font-weight="bold" letter-spacing="0.3">0.05</text>
<line x1="323.08" y1="427.40" x2="323.08" y2="429.20" stroke="#000" stroke-width="1.1" stroke-linecap="butt"/>
<text x="323.23" y="434.20" font-size="4.3" text-anchor="middle" font-weight="bold" letter-spacing="0.3">0.10</text>
<line x1="342.72" y1="427.40" x2="342.72" y2="429.20" stroke="#000" stroke-width="1.1" stroke-linecap="butt"/>
<text x="342.87" y="434.20" font-size="4.3" text-anchor="middle" font-weight="bold" letter-spacing="0.3">0.15</text>
<line x1="362.36" y1="427.40" x2="362.36" y2="429.20" stroke="#000" stroke-width="1.1" stroke-linecap="butt"/>
<text x="362.51" y="434.20" font-size="4.3" text-anchor="middle" font-weight="bold" letter-spacing="0.3">0.20</text>
<line x1="382.00" y1="427.40" x2="382.00" y2="429.20" stroke="#000" stroke-width="1.1" stroke-linecap="butt"/>
<text x="382.15" y="434.20" font-size="4.3" text-anchor="middle" font-weight="bold" letter-spacing="0.3">0.25</text>
<text x="333.00" y="444.50" font-size="4.6" text-anchor="middle" font-weight="bold" fill="#111" textLength="64.50" lengthAdjust="spacingAndGlyphs">Frequency of colorectal pDC</text>
<text x="333.20" y="449.70" font-size="4.6" text-anchor="middle" font-weight="bold" fill="#111" textLength="45.50" lengthAdjust="spacingAndGlyphs">(% of HLA-DR+LIN-)</text>
<text x="268.10" y="385.40" font-size="5.2" text-anchor="middle" fill="#111" transform="rotate(-90 268.10 385.40)" textLength="80.00" lengthAdjust="spacingAndGlyphs">MX1: Relative fold gene expression</text>
<text x="272.90" y="385.40" font-size="5.2" text-anchor="middle" fill="#111" transform="rotate(-90 272.90 385.40)" textLength="39.00" lengthAdjust="spacingAndGlyphs">in the colorectum</text>
<circle cx="294.20" cy="401.90" r="2.0" fill="#000"/>
<circle cx="302.00" cy="397.90" r="2.0" fill="#000"/>
<circle cx="310.40" cy="406.90" r="2.0" fill="#000"/>
<circle cx="325.40" cy="402.40" r="2.0" fill="#000"/>
<circle cx="352.40" cy="380.40" r="2.0" fill="#000"/>
<circle cx="353.10" cy="370.70" r="2.0" fill="#000"/>
<circle cx="362.80" cy="367.00" r="2.0" fill="#000"/>
<circle cx="364.30" cy="369.40" r="2.0" fill="#000"/>
<text x="292.60" y="362.60" font-size="6.7" fill="#222">r=0.78</text>
<text x="292.60" y="370.90" font-size="6.7" fill="#222">P=0.029</text>
<line x1="417.00" y1="350.50" x2="417.00" y2="427.10" stroke="#000" stroke-width="1.3" stroke-linecap="butt"/>
<line x1="414.20" y1="427.10" x2="417.00" y2="427.10" stroke="#000" stroke-width="1.1" stroke-linecap="butt"/>
<text x="414.10" y="428.90" font-size="4.3" text-anchor="end" font-weight="bold">0</text>
<line x1="414.20" y1="411.78" x2="417.00" y2="411.78" stroke="#000" stroke-width="1.1" stroke-linecap="butt"/>
<text x="414.10" y="413.58" font-size="4.3" text-anchor="end" font-weight="bold">5</text>
<line x1="414.20" y1="396.46" x2="417.00" y2="396.46" stroke="#000" stroke-width="1.1" stroke-linecap="butt"/>
<text x="414.10" y="398.26" font-size="4.3" text-anchor="end" font-weight="bold">10</text>
<line x1="414.20" y1="381.14" x2="417.00" y2="381.14" stroke="#000" stroke-width="1.1" stroke-linecap="butt"/>
<text x="414.10" y="382.94" font-size="4.3" text-anchor="end" font-weight="bold">15</text>
<line x1="414.20" y1="365.82" x2="417.00" y2="365.82" stroke="#000" stroke-width="1.1" stroke-linecap="butt"/>
<text x="414.10" y="367.62" font-size="4.3" text-anchor="end" font-weight="bold">20</text>
<line x1="414.20" y1="350.50" x2="417.00" y2="350.50" stroke="#000" stroke-width="1.1" stroke-linecap="butt"/>
<text x="414.10" y="352.30" font-size="4.3" text-anchor="end" font-weight="bold">25</text>
<line x1="417.00" y1="427.10" x2="515.60" y2="427.10" stroke="#000" stroke-width="1.3" stroke-linecap="butt"/>
<line x1="417.00" y1="427.10" x2="417.00" y2="428.90" stroke="#000" stroke-width="1.1" stroke-linecap="butt"/>
<text x="417.15" y="433.90" font-size="4.3" text-anchor="middle" font-weight="bold" letter-spacing="0.3">0.00</text>
<line x1="436.72" y1="427.10" x2="436.72" y2="428.90" stroke="#000" stroke-width="1.1" stroke-linecap="butt"/>
<text x="436.87" y="433.90" font-size="4.3" text-anchor="middle" font-weight="bold" letter-spacing="0.3">0.05</text>
<line x1="456.44" y1="427.10" x2="456.44" y2="428.90" stroke="#000" stroke-width="1.1" stroke-linecap="butt"/>
<text x="456.59" y="433.90" font-size="4.3" text-anchor="middle" font-weight="bold" letter-spacing="0.3">0.10</text>
<line x1="476.16" y1="427.10" x2="476.16" y2="428.90" stroke="#000" stroke-width="1.1" stroke-linecap="butt"/>
<text x="476.31" y="433.90" font-size="4.3" text-anchor="middle" font-weight="bold" letter-spacing="0.3">0.15</text>
<line x1="495.88" y1="427.10" x2="495.88" y2="428.90" stroke="#000" stroke-width="1.1" stroke-linecap="butt"/>
<text x="496.03" y="433.90" font-size="4.3" text-anchor="middle" font-weight="bold" letter-spacing="0.3">0.20</text>
<line x1="515.60" y1="427.10" x2="515.60" y2="428.90" stroke="#000" stroke-width="1.1" stroke-linecap="butt"/>
<text x="515.75" y="433.90" font-size="4.3" text-anchor="middle" font-weight="bold" letter-spacing="0.3">0.25</text>
<text x="461.40" y="444.50" font-size="4.6" text-anchor="middle" font-weight="bold" fill="#111" textLength="54.50" lengthAdjust="spacingAndGlyphs">Frequency of colorectal pDC</text>
<text x="464.00" y="449.70" font-size="4.6" text-anchor="middle" font-weight="bold" fill="#111" textLength="40.50" lengthAdjust="spacingAndGlyphs">(% of HLA-DR+LIN-)</text>
<text x="401.50" y="388.50" font-size="5.2" text-anchor="middle" fill="#111" transform="rotate(-90 401.50 388.50)" textLength="86.00" lengthAdjust="spacingAndGlyphs">OAS2: Relative fold gene expression</text>
<text x="407.10" y="388.50" font-size="5.2" text-anchor="middle" fill="#111" transform="rotate(-90 407.10 388.50)" textLength="37.00" lengthAdjust="spacingAndGlyphs">in the colorectum</text>
<circle cx="427.40" cy="401.10" r="2.0" fill="#000"/>
<circle cx="435.40" cy="401.10" r="2.0" fill="#000"/>
<circle cx="444.20" cy="414.10" r="2.0" fill="#000"/>
<circle cx="458.60" cy="404.40" r="2.0" fill="#000"/>
<circle cx="486.10" cy="380.70" r="2.0" fill="#000"/>
<circle cx="486.60" cy="358.70" r="2.0" fill="#000"/>
<circle cx="496.60" cy="376.90" r="2.0" fill="#000"/>
<circle cx="498.00" cy="370.70" r="2.0" fill="#000"/>
<text x="423.70" y="361.00" font-size="6.7" fill="#222">r=0.73</text>
<text x="423.70" y="369.30" font-size="6.7" fill="#222">P=0.045</text>
</svg>
</body></html>
